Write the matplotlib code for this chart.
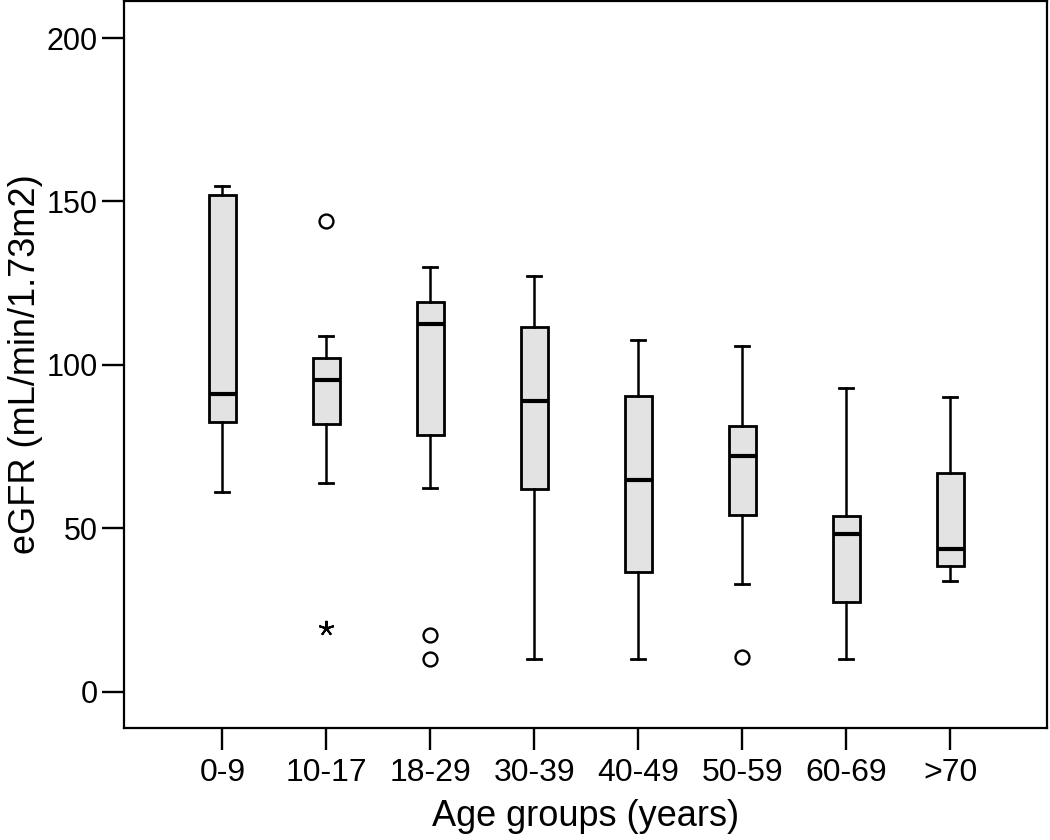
import matplotlib.pyplot as plt

plt.rcParams['font.family'] = ['Liberation Sans', 'DejaVu Sans']

# age groups and box statistics (eGFR, mL/min/1.73m2)
groups = ['0-9', '10-17', '18-29', '30-39', '40-49', '50-59', '60-69', '>70']
whislo = [61.2, 63.8, 62.2, 10.1, 10.1, 33.0, 10.1, 34.0]
q1 = [82.5, 81.9, 78.5, 62.1, 36.7, 54.1, 27.4, 38.5]
med = [91.0, 95.3, 112.5, 89.0, 64.7, 72.0, 48.3, 43.6]
q3 = [152.0, 102.0, 119.1, 111.5, 90.4, 81.3, 53.8, 66.8]
whishi = [154.8, 108.9, 129.8, 127.2, 107.6, 105.9, 92.8, 90.3]
# outliers (circles) and extremes (asterisks) per group
outliers = [[], [144.1], [17.3, 10.0], [], [], [10.5], [], []]
extremes = [[], [19.6], [], [], [], [], [], []]

stats = []
for i, g in enumerate(groups):
    stats.append({'label': g, 'whislo': whislo[i], 'q1': q1[i], 'med': med[i],
                  'q3': q3[i], 'whishi': whishi[i], 'fliers': outliers[i]})

fig = plt.figure(figsize=(10.5, 8.4), dpi=100)
ax = fig.add_axes([0.118, 0.1337, 0.879, 0.865])

pos = list(range(1, len(groups) + 1))
ax.bxp(stats, positions=pos, widths=0.26, capwidths=0.135, patch_artist=True,
       boxprops=dict(facecolor='#e3e3e3', edgecolor='black', linewidth=2.0),
       medianprops=dict(color='black', linewidth=3.0),
       whiskerprops=dict(color='black', linewidth=1.8),
       capprops=dict(color='black', linewidth=2.0),
       flierprops=dict(marker='o', markersize=10, markerfacecolor='none',
                       markeredgecolor='black', markeredgewidth=1.7))

for i, ext in enumerate(extremes):
    if ext:
        ax.plot([pos[i]] * len(ext), ext, linestyle='none', marker=(5, 2, 0),
                markersize=11, color='black', markeredgewidth=1.5)

ax.set_xlim(0.053, 8.93)
ax.set_ylim(-11.0, 211.3)
ax.set_yticks([0, 50, 100, 150, 200])
ax.set_xticks(pos)
ax.set_xticklabels(groups)

ax.tick_params(axis='both', direction='out', length=16, width=1.7, colors='black')
ax.tick_params(axis='y', pad=3, labelsize=22)
ax.tick_params(axis='x', pad=6, labelsize=23)
for s in ax.spines.values():
    s.set_linewidth(1.6)

ax.set_xlabel('Age groups (years)', fontsize=26, labelpad=8)
ax.set_ylabel('eGFR (mL/min/1.73m2)', fontsize=26, labelpad=2)

fig.savefig('out.png', dpi=100)
